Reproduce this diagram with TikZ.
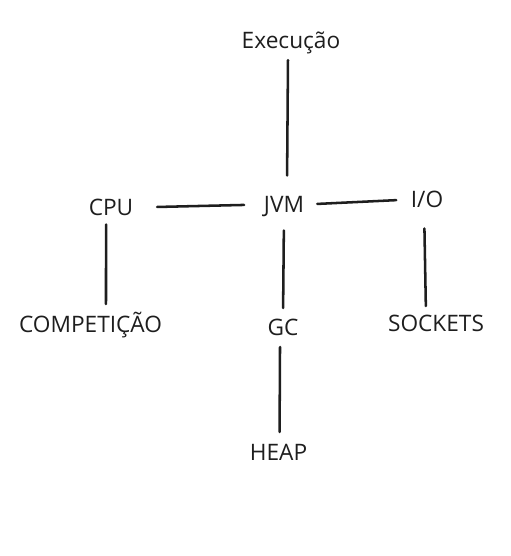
\documentclass[tikz,border=0pt]{standalone}
\usepackage{fontspec}
\setmainfont{Open Sans}
\usetikzlibrary{positioning}
\definecolor{ink}{HTML}{1E1E1E}

\begin{document}
\begin{tikzpicture}[x=0.75pt,y=-0.75pt,line width=1.9pt,line cap=round,ink]
    \tikzset{every node/.style={inner sep=0pt,text height=11.6pt,text depth=0pt,text=ink,font=\fontsize{17}{20}\selectfont}}
    \useasboundingbox (0,0) rectangle (510,556);

    \node (EXEC) at (291,40.5) {Execução};
    \node (JVM)  at (284,204.5) {JVM};
    \node (CPU)  at (111,207.5) {CPU};
    \node (IO)   at (427,199.5) {I/O};
    \node (COMP) at (90.5,325) {COMPETIÇÃO};
    \node (GC)   at (283,328) {GC};
    \node (SOCK) at (436,324) {SOCKETS};
    \node (HEAP) at (278.5,453) {HEAP};

    \path ([xshift=-2.2pt]EXEC.south) edge [shorten <=8pt,shorten >=15pt] ([xshift=2.2pt]JVM.north);
    \path (CPU.east) edge [shorten <=17pt,shorten >=14pt] (JVM.west);
    \path (JVM.east) edge [shorten <=9pt,shorten >=10pt] (IO.west);
    \path ([xshift=-3.7pt]CPU.south) edge [shorten <=6pt,shorten >=9pt] ([xshift=11.6pt]COMP.north);
    \path (JVM.south) edge [shorten <=12.7pt,shorten >=8.2pt] (GC.north);
    \path ([xshift=-2.2pt]IO.south) edge [shorten <=15pt,shorten >=6.7pt] ([xshift=-7.5pt]SOCK.north);
    \path ([xshift=-2.2pt]GC.south) edge [shorten <=7.5pt,shorten >=9pt] ([xshift=0.75pt]HEAP.north);
\end{tikzpicture}
\end{document}
